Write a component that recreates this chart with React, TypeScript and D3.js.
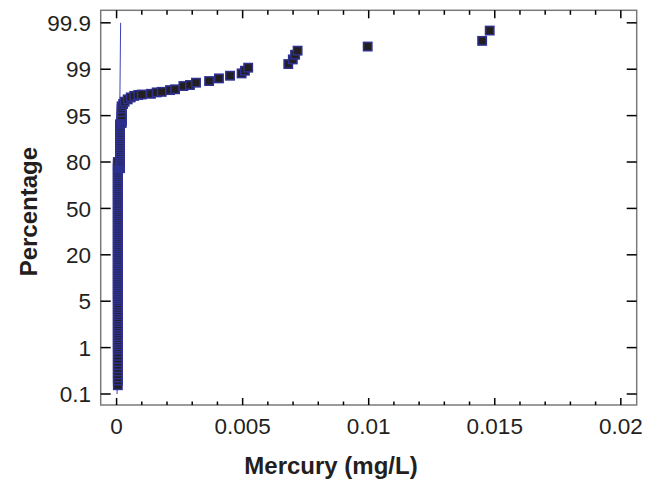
import React from "react";
import * as d3 from "d3";

const probTicks = [0.1, 1, 5, 20, 50, 80, 95, 99, 99.9];
const xTicks = [0, 0.005, 0.01, 0.015, 0.02];
const xTickLabels = ["0", "0.005", "0.01", "0.015", "0.02"];
const xMinorTicks = [0.001, 0.002, 0.003, 0.004, 0.006, 0.007, 0.008, 0.009, 0.011, 0.012, 0.013, 0.014, 0.016, 0.017, 0.018, 0.019];

// dense column at the detection-limit value
const lowColumnHg = 0.00005;
const lowColumnPct = [
  0.27, 0.36, 0.42, 0.48, 0.54, 0.6, 0.66, 0.72, 0.78, 0.84, 0.9, 0.96,
  1, 1.2, 1.4, 1.6, 1.8, 2, 2.2, 2.4, 2.6, 2.8, 3, 3.2, 3.4, 3.6, 3.8, 4, 4.2, 4.4, 4.6, 4.8,
  5, 5.6, 6.2, 6.8, 7.4, 8, 8.6, 9.2, 9.8, 10.4, 11, 11.6, 12.2, 12.8, 13.4, 14, 14.6, 15.2, 15.8, 16.4, 17, 17.6, 18.2, 18.8, 19.4,
  20, 21.25, 22.5, 23.75, 25, 26.25, 27.5, 28.75, 30, 31.25, 32.5, 33.75, 35, 36.25, 37.5, 38.75, 40, 41.25, 42.5, 43.75, 45, 46.25, 47.5, 48.75,
  50, 51.25, 52.5, 53.75, 55, 56.25, 57.5, 58.75, 60, 61.25, 62.5, 63.75, 65, 66.25, 67.5, 68.75, 70, 71.25, 72.5, 73.75, 75, 76.25, 77.5, 78.75, 80,
];
const midColumnHg = 0.000135;
const midColumnPct = [
  76, 76.6, 77.2, 77.8, 78.4, 79, 79.6, 80.2, 80.8, 81.4, 82, 82.6, 83.2, 83.8, 84.4, 85, 85.6, 86.2, 86.8, 87.4,
  88, 88.6, 89.2, 89.8, 90.4, 91, 91.6, 92.2,
];
const upperColumnHg = 0.0002;
const upperColumnPct = [92.6, 93, 93.4, 93.8, 94.2, 94.6, 95, 95.3, 95.6];

const curveHg = [
  0.0002, 0.00026, 0.00032, 0.00044, 0.00056, 0.0007, 0.00086, 0.001, 0.00136, 0.00159,
  0.00179, 0.00212, 0.00232, 0.00265, 0.00291, 0.00315, 0.00367, 0.00406, 0.0045, 0.00496,
  0.00509, 0.00522, 0.00681, 0.00699, 0.00708, 0.00718, 0.00996, 0.0145, 0.0148,
];
const curvePct = [
  95.8, 96.0, 96.2, 96.4, 96.57, 96.7, 96.78, 96.82, 96.88, 97.0,
  97.05, 97.2, 97.27, 97.55, 97.64, 97.84, 97.98, 98.21, 98.44, 98.64,
  98.87, 99.03, 99.1, 99.19, 99.28, 99.36, 99.44, 99.55, 99.75,
];

const fitHg = [0.00002, 0.00016];
const fitPct = [0.1, 99.9];

const W = 654;
const H = 482;
const L = 100.7, R = 636.7, T = 10.3, B = 405;

export default function App() {
  const x = d3.scaleLinear().domain([-0.00063, 0.02063]).range([L, R]);
  const yIdx = d3.scaleLinear().domain([-0.237, 8.27]).range([B, T]);
  const y = d3.scaleLinear().domain(probTicks).range(probTicks.map((_, i) => yIdx(i)));

  const points = [
    ...lowColumnPct.map((p) => ({ hg: lowColumnHg, pct: p })),
    ...midColumnPct.map((p) => ({ hg: midColumnHg, pct: p })),
    ...upperColumnPct.map((p) => ({ hg: upperColumnHg, pct: p })),
    ...curveHg.map((h, i) => ({ hg: h, pct: curvePct[i] })),
  ].sort((a, b) => a.pct - b.pct);

  const line = d3
    .line<number>()
    .x((_, i) => x(fitHg[i]))
    .y((d) => y(d));

  const font = "'Liberation Sans', Arial, Helvetica, sans-serif";
  const sq = 8.4;

  return (
    <svg width={W} height={H} style={{ position: "absolute", left: 0, top: 0, background: "#fff" }}>
      <rect x={0} y={0} width={W} height={H} fill="#fff" />
      <path d={line(fitPct) || ""} stroke="#3c44b8" strokeWidth={1} fill="none" />
      {points.map((d, i) => (
        <rect
          key={i}
          x={x(d.hg) - sq / 2}
          y={y(d.pct) - sq / 2}
          width={sq}
          height={sq}
          fill="#231f20"
          stroke="#2e3192"
          strokeWidth={1.5}
        />
      ))}
      <rect x={L} y={T} width={R - L} height={B - T} fill="none" stroke="#7a7a7a" strokeWidth={1.5} />
      {probTicks.map((t) => (
        <g key={"y" + t}>
          <line x1={L} x2={L + 10} y1={y(t)} y2={y(t)} stroke="#000" strokeWidth={1.5} />
          <line x1={R - 10} x2={R} y1={y(t)} y2={y(t)} stroke="#000" strokeWidth={1.5} />
          <text x={91} y={y(t)} dy="0.36em" textAnchor="end" fontFamily={font} fontSize={22.5} fill="#231f20">
            {String(t)}
          </text>
        </g>
      ))}
      {xTicks.map((t, i) => (
        <g key={"x" + t}>
          <line x1={x(t)} x2={x(t)} y1={B} y2={B - 7} stroke="#000" strokeWidth={1.5} />
          <line x1={x(t)} x2={x(t)} y1={T} y2={T + 8} stroke="#000" strokeWidth={1.5} />
          <text x={x(t)} y={433.5} textAnchor="middle" fontFamily={font} fontSize={22.5} fill="#231f20">
            {xTickLabels[i]}
          </text>
        </g>
      ))}
      {xMinorTicks.map((t) => (
        <g key={"m" + t}>
          <line x1={x(t)} x2={x(t)} y1={B} y2={B - 3.5} stroke="#000" strokeWidth={1.5} />
          <line x1={x(t)} x2={x(t)} y1={T} y2={T + 4.5} stroke="#000" strokeWidth={1.5} />
        </g>
      ))}
      <text x={331} y={474} textAnchor="middle" fontFamily={font} fontSize={24} fontWeight="bold" fill="#231f20">
        Mercury (mg/L)
      </text>
      <text
        transform={`translate(37, ${(T + B) / 2 + 4}) rotate(-90)`}
        textAnchor="middle"
        fontFamily={font}
        fontSize={24}
        fontWeight="bold"
        fill="#231f20"
      >
        Percentage
      </text>
    </svg>
  );
}
